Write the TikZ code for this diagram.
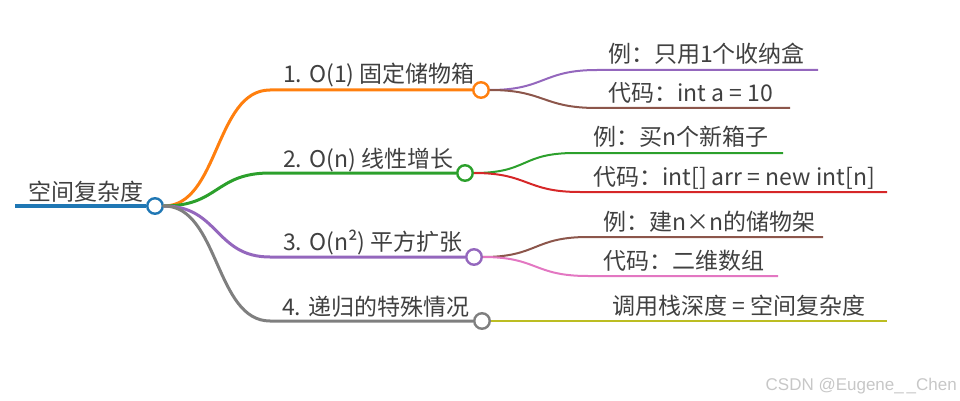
\documentclass[tikz,border=0pt]{standalone}
\usepackage{fontspec}
\setmainfont{Noto Sans CJK SC}
\newfontfamily\wmfont{Liberation Sans}
\usepackage{xcolor}
\usepackage{tikz}
\usetikzlibrary{positioning}
\definecolor{mmblue}{HTML}{1F77B4}
\definecolor{mmorange}{HTML}{FF7F0E}
\definecolor{mmgreen}{HTML}{2CA02C}
\definecolor{mmred}{HTML}{D62728}
\definecolor{mmpurple}{HTML}{9467BD}
\definecolor{mmbrown}{HTML}{8C564B}
\definecolor{mmpink}{HTML}{E377C2}
\definecolor{mmgrey}{HTML}{7F7F7F}
\definecolor{mmolive}{HTML}{BCBD22}
\definecolor{mmtext}{HTML}{404040}

\begin{document}
\begin{tikzpicture}[x=1pt, y=-1pt,
      txt/.style={anchor=base west, inner sep=0pt, text=mmtext,
                  font=\fontsize{23}{27}\selectfont},
      dot/.style={circle, draw=#1, fill=white, line width=2.4pt,
                  minimum size=15.5pt, inner sep=0pt},
      rootline/.style={mmblue, line width=4pt},
      branch/.style={line width=3pt, line cap=round},
      leaf/.style={line width=2pt}
    ]
    \useasboundingbox (0,0) rectangle (960,401);

    % root
    \node[dot=mmblue] (root) at (155,206) {};
    \coordinate (r0) at (15,206);
    \draw[rootline] (r0) -- (root);
    \node[txt] (rootlbl) at (28,200) {空间复杂度};

    % branches
    \node[dot=mmorange] (b1) at (481,90) {};
    \node[dot=mmgreen]  (b2) at (465,173) {};
    \node[dot=mmpurple] (b3) at (474,257) {};
    \node[dot=mmgrey]   (b4) at (482,321) {};
    \coordinate (b1s) at (270,90);
    \coordinate (b2s) at (270,173);
    \coordinate (b3s) at (270,257);
    \coordinate (b4s) at (270,321);
    \draw[branch, mmorange] (root.east) .. controls +(55,0) and +(-55,0) .. (b1s) -- (b1);
    \draw[branch, mmgreen]  (root.east) .. controls +(55,0) and +(-55,0) .. (b2s) -- (b2);
    \draw[branch, mmpurple] (root.east) .. controls +(55,0) and +(-55,0) .. (b3s) -- (b3);
    \draw[branch, mmgrey]   (root.east) .. controls +(55,0) and +(-55,0) .. (b4s) -- (b4);
    \node[txt] (b1lbl) at (283,83)  {1. O(1) 固定储物箱};
    \node[txt] (b2lbl) at (283,167) {2. O(n) 线性增长};
    \node[txt] (b3lbl) at (283,250) {3. O(n²) 平方扩张};
    \node[txt] (b4lbl) at (282,315) {4. 递归的特殊情况};

    % leaves
    \coordinate (l11s) at (597,70);  \coordinate (l11e) at (818,70);
    \coordinate (l12s) at (597,108); \coordinate (l12e) at (790,108);
    \coordinate (l21s) at (575,153); \coordinate (l21e) at (783,153);
    \coordinate (l22s) at (580,192); \coordinate (l22e) at (887,192);
    \coordinate (l31s) at (588,237); \coordinate (l31e) at (823,237);
    \coordinate (l32s) at (588,276); \coordinate (l32e) at (778,276);
    \coordinate (l41e) at (887,321);
    \draw[leaf, mmpurple] (b1.east) .. controls +(55,0) and +(-55,0) .. (l11s) -- (l11e);
    \draw[leaf, mmbrown]  (b1.east) .. controls +(55,0) and +(-55,0) .. (l12s) -- (l12e);
    \draw[leaf, mmgreen]  (b2.east) .. controls +(55,0) and +(-55,0) .. (l21s) -- (l21e);
    \draw[leaf, mmred]    (b2.east) .. controls +(55,0) and +(-55,0) .. (l22s) -- (l22e);
    \draw[leaf, mmbrown]  (b3.east) .. controls +(55,0) and +(-55,0) .. (l31s) -- (l31e);
    \draw[leaf, mmpink]   (b3.east) .. controls +(55,0) and +(-55,0) .. (l32s) -- (l32e);
    \draw[leaf, mmolive]  (b4.east) -- (l41e);
    \node[txt] (l11) at (608,63)  {例：只用1个收纳盒};
    \node[txt] (l12) at (608,102) {代码：int a = 10};
    \node[txt] (l21) at (593,146) {例：买n个新箱子};
    \node[txt] (l22) at (593,185) {代码：int[] arr = new int[n]};
    \node[txt] (l31) at (603,230) {例：建n×n的储物架};
    \node[txt] (l32) at (603,269) {代码：二维数组};
    \node[txt] (l41) at (612,314) {调用栈深度 = 空间复杂度};

    \node[anchor=base east, inner sep=0pt, text=black!22,
          font=\wmfont\fontsize{17}{20}\selectfont] (mark) at (957,390) {CSDN @Eugene\_\,\_Chen};
  \end{tikzpicture}
\end{document}
